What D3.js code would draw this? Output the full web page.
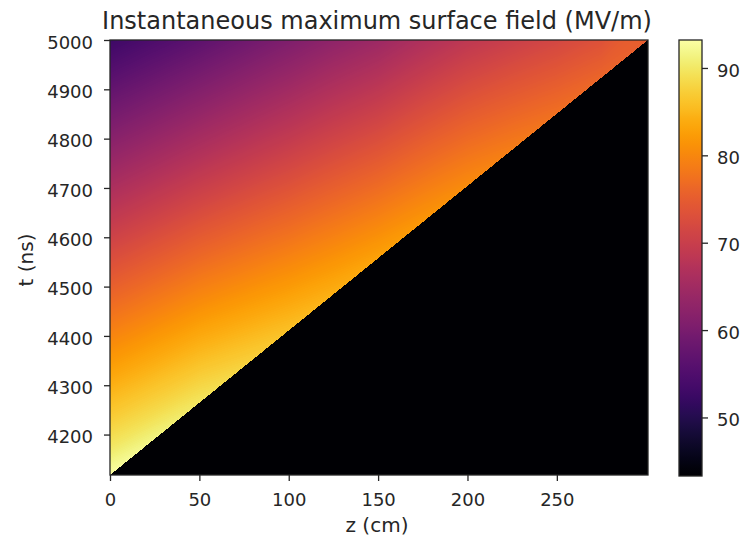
<!DOCTYPE html>
<html>
<head>
<meta charset="utf-8">
<script src="https://cdn.jsdelivr.net/npm/d3@7"></script>
<style>
  body { margin: 0; background: #fff; }
  text { font-family: "DejaVu Sans", sans-serif; fill: #262626; }
</style>
</head>
<body>
<div id="chart"></div>
<script>
// grid of the field: z along the structure (cm), tau = time after the front arrived (ns)
var zNodes = [0, 25, 50, 75, 100, 125, 150, 175, 200, 225, 250, 275, 300];
var tauNodes = [0, 50, 100, 150, 200, 250, 300, 350, 400, 450, 500, 550, 600, 650, 700, 750, 800, 850, 900];

// arrival front of the field (no field below this line)
var frontZ = [0, 301];
var frontT = [4118, 5000];

// colour range of the data
var fieldRange = [43.3, 93.2];

// max surface field (MV/m), one list per z node, indexed by tau node (null = outside plot)
var field = [
  [93.0, 90.2, 87.9, 85.7, 83.4, 81.2, 78.9, 76.7, 74.4, 72.2, 69.9, 67.7, 65.4, 63.2, 60.9, 58.7, 56.4, 54.2, null],
  [91.4, 88.8, 86.6, 84.3, 82.1, 79.8, 77.6, 75.3, 73.1, 70.8, 68.6, 66.3, 64.1, 61.8, 59.6, 57.3, 55.1, null, null],
  [89.7, 87.5, 85.2, 83.0, 80.7, 78.5, 76.2, 74.0, 71.7, 69.5, 67.2, 65.0, 62.7, 60.5, 58.2, null, null, null, null],
  [87.8, 85.6, 83.4, 81.2, 79.0, 76.8, 74.6, 72.4, 70.2, 68.0, 65.8, 63.6, 61.4, 59.2, null, null, null, null, null],
  [85.9, 83.8, 81.6, 79.5, 77.3, 75.2, 73.0, 70.9, 68.7, 66.6, 64.4, 62.3, null, null, null, null, null, null, null],
  [84.3, 82.2, 80.1, 78.0, 75.9, 73.8, 71.7, 69.6, 67.5, 65.4, 63.3, null, null, null, null, null, null, null, null],
  [82.9, 80.8, 78.7, 76.6, 74.5, 72.4, 70.3, 68.2, 66.1, null, null, null, null, null, null, null, null, null, null],
  [81.7, 79.7, 77.6, 75.6, 73.5, 71.5, 69.4, 67.4, null, null, null, null, null, null, null, null, null, null, null],
  [80.5, 78.5, 76.5, 74.5, 72.5, 70.5, null, null, null, null, null, null, null, null, null, null, null, null, null],
  [78.9, 77.0, 75.0, 73.1, 71.1, null, null, null, null, null, null, null, null, null, null, null, null, null, null],
  [77.3, 75.4, 73.5, null, null, null, null, null, null, null, null, null, null, null, null, null, null, null, null],
  [76.0, 74.2, null, null, null, null, null, null, null, null, null, null, null, null, null, null, null, null, null],
  [75.0, null, null, null, null, null, null, null, null, null, null, null, null, null, null, null, null, null, null]
];

var xTicks = [0, 50, 100, 150, 200, 250];
var yTicks = [4200, 4300, 4400, 4500, 4600, 4700, 4800, 4900, 5000];
var cbTicks = [50, 60, 70, 80, 90];

// set the dimensions and margins of the graph
var margin = {top: 40, left: 110},
    width = 538,
    height = 435;

var svg = d3.select("#chart")
  .append("svg")
    .attr("width", 741)
    .attr("height", 540);

var x = d3.scaleLinear().domain([0, 301]).range([margin.left, margin.left + width]);
var y = d3.scaleLinear().domain([4118, 5000]).range([margin.top + height, margin.top]);
var front = d3.scaleLinear().domain(frontZ).range(frontT);
var color = d3.scaleSequential(d3.interpolateInferno).domain(fieldRange);

// value of one z column at time tau (linear between nodes, extended past the last one)
function columnValue(col, tau) {
  var vals = field[col];
  var n = 0;
  while (n < vals.length && vals[n] !== null) n++;
  if (n === 1) return vals[0];
  var step = tauNodes[1] - tauNodes[0];
  var k = Math.min(Math.floor(tau / step), n - 2);
  var f = (tau - tauNodes[k]) / step;
  return vals[k] + f * (vals[k + 1] - vals[k]);
}

function fieldAt(z, t) {
  var tau = t - front(z);
  if (tau < 0) return fieldRange[0];
  var dz = zNodes[1] - zNodes[0];
  var c = Math.max(0, Math.min(z / dz, zNodes.length - 1));
  var c0 = Math.min(Math.floor(c), zNodes.length - 2);
  var f = c - c0;
  return (1 - f) * columnValue(c0, tau) + f * columnValue(c0 + 1, tau);
}

// heatmap painted pixel by pixel, then placed on the axes
var canvas = document.createElement("canvas");
canvas.width = width;
canvas.height = height;
var ctx = canvas.getContext("2d");
var img = ctx.createImageData(width, height);
for (var j = 0; j < height; j++) {
  var t = y.invert(margin.top + j + 0.5);
  for (var i = 0; i < width; i++) {
    var z = x.invert(margin.left + i + 0.5);
    var c = d3.rgb(color(fieldAt(z, t)));
    var p = (j * width + i) * 4;
    img.data[p] = c.r; img.data[p + 1] = c.g; img.data[p + 2] = c.b; img.data[p + 3] = 255;
  }
}
ctx.putImageData(img, 0, 0);

svg.append("image")
  .attr("x", x.range()[0])
  .attr("y", y.range()[1])
  .attr("width", width)
  .attr("height", height)
  .attr("preserveAspectRatio", "none")
  .attr("href", canvas.toDataURL());

// axes
var xAxis = svg.append("g")
  .attr("transform", "translate(0," + (margin.top + height) + ")")
  .call(d3.axisBottom(x).tickValues(xTicks).tickFormat(d3.format("d")).tickSize(6).tickPadding(12));
var yAxis = svg.append("g")
  .attr("transform", "translate(" + margin.left + ",0)")
  .call(d3.axisLeft(y).tickValues(yTicks).tickFormat(d3.format("d")).tickSize(6).tickPadding(11));

[xAxis, yAxis].forEach(function(a) {
  a.select(".domain").remove();
  a.selectAll("line").attr("stroke", "#262626").attr("stroke-width", 1.3);
  a.selectAll("text").style("font-size", "18px").attr("font-family", null);
});
yAxis.selectAll("text").attr("dy", "0.45em");

svg.append("rect")
  .attr("x", margin.left)
  .attr("y", margin.top)
  .attr("width", width)
  .attr("height", height)
  .attr("fill", "none")
  .attr("stroke", "#262626")
  .attr("stroke-width", 1.3);

// colour bar
var cbX = 679, cbW = 23;
var cb = d3.scaleLinear().domain(fieldRange).range([476, 40]);

var grad = svg.append("defs").append("linearGradient")
  .attr("id", "cbgrad")
  .attr("x1", 0).attr("y1", 1).attr("x2", 0).attr("y2", 0);
grad.selectAll("stop")
  .data(d3.range(0, 1.0001, 0.02))
  .enter()
  .append("stop")
    .attr("offset", function(d) { return d; })
    .attr("stop-color", function(d) { return d3.interpolateInferno(d); });

svg.append("rect")
  .attr("x", cbX)
  .attr("y", cb.range()[1])
  .attr("width", cbW)
  .attr("height", cb.range()[0] - cb.range()[1])
  .attr("fill", "url(#cbgrad)")
  .attr("stroke", "#262626")
  .attr("stroke-width", 1.3);

var cAxis = svg.append("g")
  .attr("transform", "translate(" + (cbX + cbW) + ",0)")
  .call(d3.axisRight(cb).tickValues(cbTicks).tickSize(6).tickPadding(9));
cAxis.select(".domain").remove();
cAxis.selectAll("line").attr("stroke", "#262626").attr("stroke-width", 1.3);
cAxis.selectAll("text").style("font-size", "18px").attr("font-family", null).attr("dy", "0.45em");

// title and axis names
svg.append("text")
  .attr("x", 377)
  .attr("y", 29)
  .attr("text-anchor", "middle")
  .style("font-size", "24px")
  .text("Instantaneous maximum surface field (MV/m)");

svg.append("text")
  .attr("x", 377)
  .attr("y", 532)
  .attr("text-anchor", "middle")
  .style("font-size", "20px")
  .text("z (cm)");

svg.append("text")
  .attr("transform", "translate(33,260) rotate(-90)")
  .attr("text-anchor", "middle")
  .style("font-size", "20px")
  .text("t (ns)");
</script>
</body>
</html>
